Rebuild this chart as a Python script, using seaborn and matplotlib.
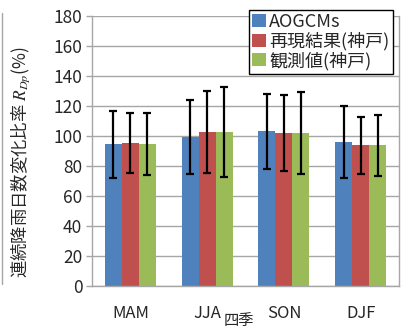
import matplotlib
matplotlib.use("Agg")
import matplotlib.pyplot as plt
from matplotlib.lines import Line2D
import seaborn as sns
import pandas as pd
import numpy as np

seasons = ["MAM", "JJA", "SON", "DJF"]
series = ["AOGCMs", "再現結果(神戸)", "観測値(神戸)"]
aogcm = [94.5, 99.5, 103.3, 96.0]
repro = [95.3, 102.7, 102.0, 93.8]
obs = [94.5, 102.7, 102.0, 93.8]
aogcm_err = [22.5, 24.5, 25.0, 24.0]
repro_err = [19.8, 27.5, 25.5, 18.8]
obs_err = [20.6, 30.2, 27.5, 20.3]
yticks = [0, 20, 40, 60, 80, 100, 120, 140, 160, 180]
colors = ["#4F81BD", "#C0504D", "#9BBB59"]

sns.set_theme(style="white")
plt.rcParams["font.family"] = ["Noto Sans CJK JP", "DejaVu Sans"]
plt.rcParams["mathtext.fontset"] = "stix"

df = pd.DataFrame({
    "season": seasons * 3,
    "series": [s for s in series for _ in seasons],
    "value": aogcm + repro + obs,
    "err": aogcm_err + repro_err + obs_err,
})

fig = plt.figure(figsize=(4.07, 3.28), dpi=100)
ax = fig.add_axes([92 / 407, 1 - 286 / 328, 307 / 407, 270 / 328])

sns.barplot(data=df, x="season", y="value", hue="series", order=seasons,
            hue_order=series, palette=colors, errorbar=None, width=0.665,
            saturation=1, linewidth=0, ax=ax)

# error bars centred on each bar
bars = [p for p in ax.patches if p.get_height() > 0][:len(df)]
for i, p in enumerate(bars):
    s_idx, c_idx = divmod(i, len(seasons))
    row = df[(df.series == series[s_idx]) & (df.season == seasons[c_idx])].iloc[0]
    xc = p.get_x() + p.get_width() / 2
    ax.errorbar(xc, row["value"], yerr=row["err"], fmt="none", ecolor="black",
                elinewidth=1.6, capsize=3, capthick=1.6, zorder=5)

ax.set_ylim(0, 180)
ax.set_xlim(-0.5, 3.5)
ax.set_yticks(yticks)
ax.yaxis.grid(True, color="#A6A6A6", linewidth=1)
ax.set_axisbelow(True)
for side in ["left", "right", "bottom", "top"]:
    ax.spines[side].set_visible(True)
    ax.spines[side].set_color("#A6A6A6")
    ax.spines[side].set_linewidth(1)
ax.spines["top"].set_visible(False)

ax.tick_params(axis="y", which="both", left=True, length=4, width=1,
               color="#A6A6A6", labelsize=12.5, pad=3)
ax.tick_params(axis="x", length=0, labelsize=12, pad=14)

ax.set_ylabel("連続降雨日数変化比率 $R_{Dp}$(%)", fontsize=12.5)
ax.yaxis.set_label_coords(-0.195, 0.46)
ax.set_xlabel("四季", fontsize=11)
ax.xaxis.set_label_coords(0.478, -0.098)

leg = ax.legend(loc="upper right", bbox_to_anchor=(0.981, 1.024), fontsize=13,
                frameon=True, fancybox=False, edgecolor="black",
                handlelength=0.75, handleheight=0.75, handletextpad=0.2,
                labelspacing=0.05, borderpad=0.2, borderaxespad=0)
leg.get_frame().set_linewidth(1)
leg.get_frame().set_alpha(1)

fig.add_artist(Line2D([1.5 / 407, 1.5 / 407], [1 - 284 / 328, 1 - 13 / 328],
                      transform=fig.transFigure, color="#A6A6A6", linewidth=1))

fig.savefig("out.png", dpi=100)
